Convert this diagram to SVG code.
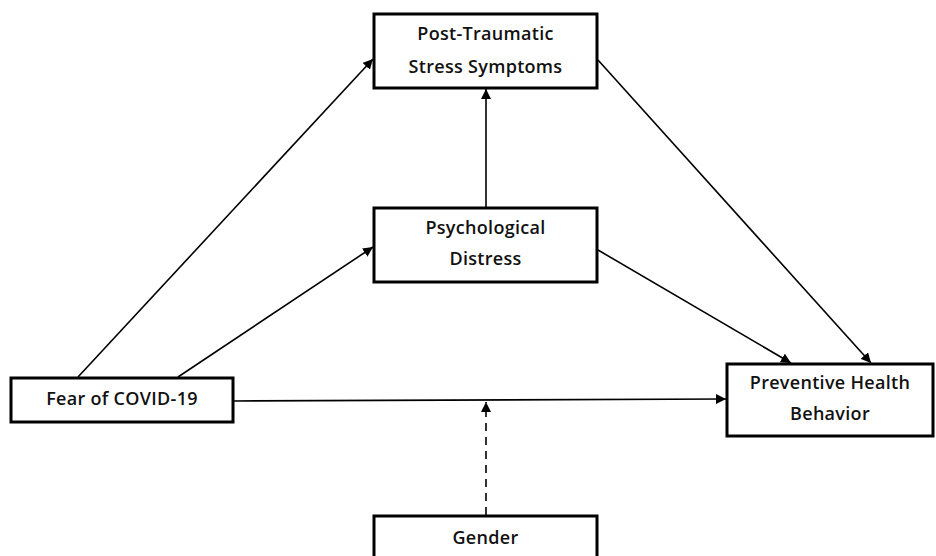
<svg xmlns="http://www.w3.org/2000/svg" width="936" height="556" viewBox="0 0 936 556">
<style>
.box{fill:#fff;stroke:#000;stroke-width:3}
.lbl{font-family:"Open Sans","Liberation Sans",sans-serif;font-weight:600;font-size:18px;fill:#111;text-anchor:middle;letter-spacing:0.3px}
.con{stroke:#000;stroke-width:1.6;fill:none;marker-end:url(#ah)}
.dash{stroke-dasharray:8,6}
</style>
<defs>
<marker id="ah" viewBox="0 0 10 10" refX="10" refY="5" markerWidth="10" markerHeight="10" markerUnits="userSpaceOnUse" orient="auto">
<path d="M0,0 L10,5 L0,10 z" fill="#000"/>
</marker>
</defs>
<rect width="936" height="556" fill="#fff"/>
<g id="connectors">
<line class="con" x1="78" y1="377" x2="373" y2="59"/>
<line class="con" x1="178" y1="377" x2="373" y2="247"/>
<line class="con" x1="234" y1="401" x2="726" y2="399"/>
<line class="con" x1="486" y1="207" x2="486" y2="89"/>
<line class="con" x1="598" y1="250" x2="791" y2="363"/>
<line class="con" x1="598" y1="60" x2="871" y2="363"/>
<line class="con dash" x1="486" y1="515" x2="486" y2="402"/>
</g>
<g id="ptss">
<rect class="box" x="374" y="14" width="223" height="74"/>
<text class="lbl" x="485.5" y="39.5">Post-Traumatic</text>
<text class="lbl" x="485.5" y="72.5">Stress Symptoms</text>
</g>
<g id="psych">
<rect class="box" x="374" y="208" width="223" height="74"/>
<text class="lbl" x="485.5" y="233.5">Psychological</text>
<text class="lbl" x="485.5" y="264.5">Distress</text>
</g>
<g id="fear">
<rect class="box" x="11" y="378" width="222" height="44"/>
<text class="lbl" x="122" y="404.5">Fear of COVID-19</text>
</g>
<g id="phb">
<rect class="box" x="727" y="364" width="206" height="72"/>
<text class="lbl" x="830" y="388.5">Preventive Health</text>
<text class="lbl" x="830" y="419.5">Behavior</text>
</g>
<g id="gender">
<rect class="box" x="374" y="516" width="223" height="50"/>
<text class="lbl" x="485.5" y="543.5">Gender</text>
</g>
</svg>
